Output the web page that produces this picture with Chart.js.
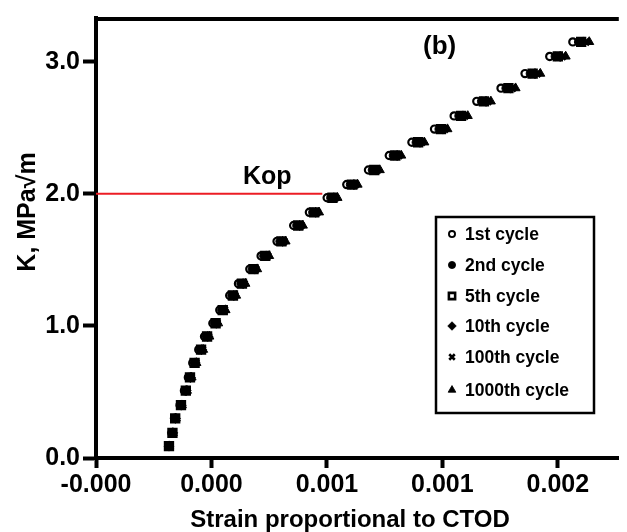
<!DOCTYPE html>
<html>
<head>
<meta charset="utf-8">
<script src="https://cdn.jsdelivr.net/npm/chart.js@4.4.1/dist/chart.umd.min.js"></script>
<style>
html, body { margin: 0; padding: 0; background: #fff; }
#wrap { position: relative; width: 627px; height: 532px; }
</style>
</head>
<body>
<div id="wrap"><canvas id="chart" width="627" height="532"></canvas></div>
<script>
// K levels (MPa√m) reached on the loading branch, shared by every cycle
var kLevels = [0.09, 0.19, 0.30, 0.40, 0.51, 0.61, 0.72, 0.82, 0.92, 1.02,
               1.12, 1.23, 1.32, 1.43, 1.53, 1.64, 1.76, 1.86, 1.97, 2.07,
               2.18, 2.29, 2.39, 2.49, 2.59, 2.70, 2.80, 2.91, 3.04, 3.15];

// strain (proportional to CTOD) for each recorded cycle
var strain1st = [-0.000185, -0.000171, -0.000160, -0.000136, -0.000117, -0.000100, -0.000081, -0.000055, -0.000030, 0.000006,
                 0.000036, 0.000079, 0.000117, 0.000166, 0.000215, 0.000284, 0.000356, 0.000424, 0.000501, 0.000586,
                 0.000680, 0.000770, 0.000868, 0.000966, 0.001051, 0.001149, 0.001254, 0.001358, 0.001465, 0.001565];
var strain2nd = [-0.000184, -0.000170, -0.000158, -0.000133, -0.000113, -0.000095, -0.000075, -0.000048, -0.000023, 0.000014,
                 0.000045, 0.000089, 0.000128, 0.000177, 0.000227, 0.000297, 0.000370, 0.000439, 0.000517, 0.000602,
                 0.000697, 0.000788, 0.000887, 0.000986, 0.001072, 0.001170, 0.001276, 0.001381, 0.001489, 0.001590];
var strain5th = [-0.000184, -0.000169, -0.000157, -0.000132, -0.000111, -0.000093, -0.000073, -0.000045, -0.000019, 0.000018,
                 0.000049, 0.000093, 0.000132, 0.000182, 0.000233, 0.000303, 0.000376, 0.000445, 0.000524, 0.000610,
                 0.000705, 0.000796, 0.000895, 0.000994, 0.001081, 0.001180, 0.001286, 0.001391, 0.001500, 0.001601];
var strain10th = [-0.000184, -0.000168, -0.000156, -0.000131, -0.000110, -0.000091, -0.000071, -0.000043, -0.000016, 0.000021,
                  0.000052, 0.000097, 0.000137, 0.000187, 0.000238, 0.000308, 0.000382, 0.000451, 0.000530, 0.000617,
                  0.000712, 0.000804, 0.000903, 0.001002, 0.001089, 0.001189, 0.001295, 0.001401, 0.001510, 0.001611];
var strain100th = [-0.000183, -0.000168, -0.000155, -0.000130, -0.000108, -0.000089, -0.000068, -0.000040, -0.000013, 0.000024,
                   0.000056, 0.000101, 0.000141, 0.000192, 0.000243, 0.000314, 0.000388, 0.000458, 0.000537, 0.000624,
                   0.000719, 0.000812, 0.000911, 0.001011, 0.001098, 0.001198, 0.001304, 0.001411, 0.001520, 0.001622];
var strain1000th = [-0.000183, -0.000167, -0.000154, -0.000128, -0.000106, -0.000086, -0.000065, -0.000036, -0.000009, 0.000029,
                    0.000061, 0.000107, 0.000147, 0.000198, 0.000250, 0.000321, 0.000396, 0.000466, 0.000546, 0.000633,
                    0.000729, 0.000822, 0.000922, 0.001022, 0.001110, 0.001210, 0.001317, 0.001424, 0.001534, 0.001636];

var cycleNames = ['1st cycle', '2nd cycle', '5th cycle', '10th cycle', '100th cycle', '1000th cycle'];

// crack opening level line
var kopStrain = [-0.0005, 0.00048];
var kopK = [2.0, 2.0];

var xTickValues = [-0.0005, 0, 0.0005, 0.001, 0.0015];
var xTickLabels = ['-0.000', '0.000', '0.001', '0.001', '0.002'];
var yTickValues = [0, 1, 2, 3];
var yTickLabels = ['0.0', '1.0', '2.0', '3.0'];

var FONT = "'Liberation Sans', Arial, sans-serif";
Chart.defaults.font.family = FONT;
Chart.defaults.color = '#000';

// marker look for each cycle; the hollow markers are drawn underneath the filled ones
var markerStyles = [
	{ pointStyle: 'circle', radius: 3.6, bg: '#fff', border: 2.2, order: 8 },
	{ pointStyle: 'circle', radius: 4.2, bg: '#000', border: 1, order: 2 },
	{ pointStyle: 'rect', radius: 5.2, bg: '#fff', border: 3, order: 9 },
	{ pointStyle: 'rectRot', radius: 5, bg: '#000', border: 1, order: 3 },
	{ pointStyle: 'crossRot', radius: 4.6, bg: '#000', border: 3, order: 4 },
	{ pointStyle: 'triangle', radius: 5.2, bg: '#000', border: 1, order: 5 }
];

function zip(xs, ys) {
	var pts = [];
	for (var i = 0; i < xs.length; i++) {
		pts.push({ x: xs[i], y: ys[i] });
	}
	return pts;
}

var cycleStrains = [strain1st, strain2nd, strain5th, strain10th, strain100th, strain1000th];
var datasets = cycleStrains.map(function(strains, i) {
	var m = markerStyles[i];
	return {
		label: cycleNames[i],
		data: zip(strains, kLevels),
		order: m.order,
		pointStyle: m.pointStyle,
		pointRadius: m.radius,
		pointBackgroundColor: m.bg,
		pointBorderColor: '#000',
		pointBorderWidth: m.border,
		showLine: false
	};
});
datasets.push({
	type: 'line',
	label: 'Kop',
	order: 10,
	data: zip(kopStrain, kopK),
	borderColor: '#ec1c24',
	borderWidth: 2,
	pointRadius: 0,
	fill: false
});

// frame top, annotations, axis titles and the boxed legend
var decorations = {
	id: 'decorations',
	afterDraw: function(chart) {
		var ctx = chart.ctx;
		var area = chart.chartArea;
		ctx.save();

		ctx.strokeStyle = '#000';
		ctx.lineWidth = 4;
		ctx.beginPath();
		ctx.moveTo(area.left - 2, area.top + 1);
		ctx.lineTo(area.right, area.top + 1);
		ctx.stroke();

		ctx.fillStyle = '#000';
		ctx.textBaseline = 'alphabetic';
		ctx.textAlign = 'left';
		ctx.font = 'bold 25px ' + FONT;
		ctx.fillText('Kop', 243, 184);
		ctx.font = 'bold 26px ' + FONT;
		ctx.fillText('(b)', 423, 54);

		ctx.textAlign = 'center';
		ctx.font = 'bold 24px ' + FONT;
		ctx.fillText('Strain proportional to CTOD', 350, 527);

		ctx.save();
		ctx.translate(35, 212);
		ctx.rotate(-Math.PI / 2);
		ctx.font = 'bold 25px ' + FONT;
		ctx.fillText('K, MPa\u221Am', 0, 0);
		ctx.restore();

		// legend box
		ctx.lineWidth = 2.5;
		ctx.strokeRect(436, 217, 158, 196);
		var rowY = [234, 265, 296, 326, 357, 390];
		ctx.textAlign = 'left';
		ctx.textBaseline = 'middle';
		ctx.font = 'bold 17.5px ' + FONT;
		for (var i = 0; i < cycleNames.length; i++) {
			var m = markerStyles[i];
			var r = m.radius * 0.85;
			ctx.fillStyle = m.bg;
			ctx.strokeStyle = '#000';
			ctx.lineWidth = m.border * 0.85;
			Chart.helpers.drawPoint(ctx, { pointStyle: m.pointStyle, radius: r, rotation: 0, borderWidth: m.border }, 452, rowY[i]);
			ctx.fillStyle = '#000';
			ctx.fillText(cycleNames[i], 465, rowY[i] + 1);
		}
		ctx.restore();
	}
};

var chart = new Chart(document.getElementById('chart'), {
	type: 'scatter',
	data: { datasets: datasets },
	plugins: [decorations],
	options: {
		responsive: false,
		animation: false,
		devicePixelRatio: 1,
		events: [],
		layout: { padding: { top: 16, left: 0, right: 0, bottom: 0 } },
		plugins: {
			legend: { display: false },
			tooltip: { enabled: false }
		},
		scales: {
			x: {
				type: 'linear',
				min: -0.0005,
				max: 0.001764,
				afterBuildTicks: function(scale) {
					scale.ticks = xTickValues.map(function(v) { return { value: v }; });
				},
				afterFit: function(scale) { scale.height = 74; },
				ticks: {
					autoSkip: false,
					maxRotation: 0,
					padding: 3,
					font: { size: 25, weight: 'bold', lineHeight: 1.1 },
					color: '#000',
					callback: function(value, index) { return xTickLabels[index]; }
				},
				grid: { drawOnChartArea: false, tickLength: 10, tickWidth: 4, tickColor: '#000' },
				border: { width: 4, color: '#000' }
			},
			y: {
				type: 'linear',
				min: 0,
				max: 3.331,
				afterBuildTicks: function(scale) {
					scale.ticks = yTickValues.map(function(v) { return { value: v }; });
				},
				afterFit: function(scale) { scale.width = 96; },
				ticks: {
					padding: 3,
					font: { size: 25, weight: 'bold' },
					color: '#000',
					callback: function(value, index) { return yTickLabels[index]; }
				},
				grid: { drawOnChartArea: false, tickLength: 13, tickWidth: 4, tickColor: '#000' },
				border: { width: 4, color: '#000' }
			}
		}
	}
});
</script>
</body>
</html>
